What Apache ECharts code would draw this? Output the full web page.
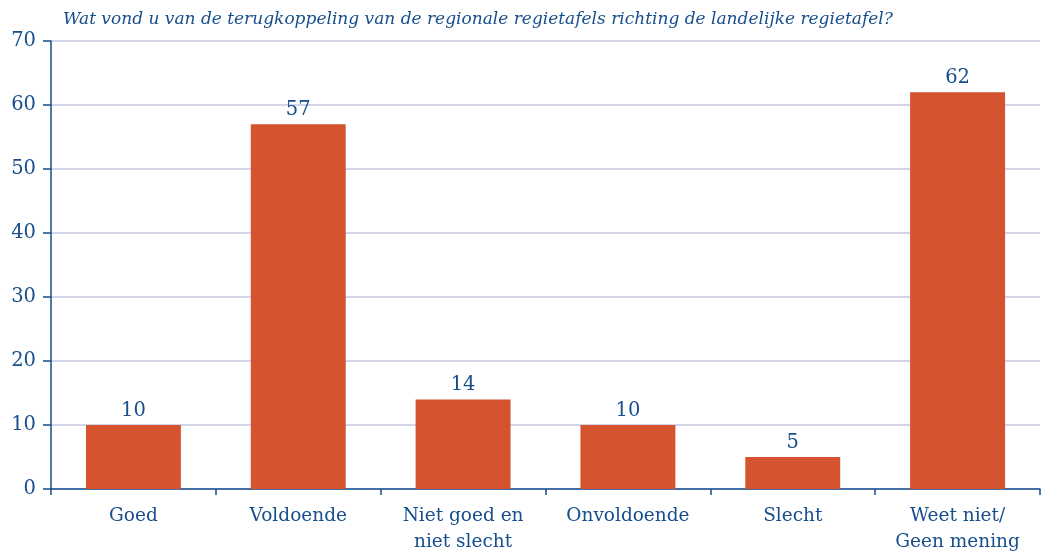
<!DOCTYPE html>
<html lang="nl">
<head>
<meta charset="utf-8">
<script src="https://cdn.jsdelivr.net/npm/echarts@6/dist/echarts.min.js"></script>
<style>
  html, body { margin: 0; padding: 0; background: #fff; }
  #main { width: 1044px; height: 555px; }
</style>
</head>
<body>
<div id="main"></div>
<script type="text/javascript">
  // data
  var titleText = 'Wat vond u van de terugkoppeling van de regionale regietafels richting de landelijke regietafel?';
  var categories = ['Goed', 'Voldoende', 'Niet goed en\nniet slecht', 'Onvoldoende', 'Slecht', 'Weet niet/\nGeen mening'];
  var values = [10, 57, 14, 10, 5, 62];
  var yTicks = { min: 0, max: 70, interval: 10 };

  var textBlue = '#174e8c';
  var barRed = '#d5532f';
  var fontName = 'DejaVu Serif';

  var chart = echarts.init(document.getElementById('main'));
  chart.setOption({
    animation: false,
    title: {
      text: titleText,
      left: 58,
      top: 6,
      textStyle: { color: textBlue, fontFamily: fontName, fontStyle: 'italic', fontWeight: 'normal', fontSize: 17 }
    },
    grid: { left: 51, right: 4, top: 41, bottom: 66 },
    xAxis: {
      type: 'category',
      data: categories,
      axisLine: { lineStyle: { color: textBlue, width: 1.5 } },
      axisTick: { show: true, interval: 0, length: 6, lineStyle: { color: textBlue, width: 1.5 } },
      axisLabel: { interval: 0, color: textBlue, fontFamily: fontName, fontSize: 18.5, margin: 14, lineHeight: 26 }
    },
    yAxis: {
      type: 'value',
      min: yTicks.min,
      max: yTicks.max,
      interval: yTicks.interval,
      axisLine: { show: true, lineStyle: { color: textBlue, width: 1.5 } },
      axisTick: { show: true, length: 8, lineStyle: { color: textBlue, width: 1.5 } },
      axisLabel: { color: textBlue, fontFamily: fontName, fontSize: 19.5, margin: 15 },
      splitLine: { lineStyle: { color: '#c3c8e0', width: 1.5 } }
    },
    series: [{
      type: 'bar',
      data: values,
      barWidth: '57.6%',
      itemStyle: { color: barRed },
      label: {
        show: true,
        position: 'top',
        distance: 4,
        color: textBlue,
        fontFamily: fontName,
        fontSize: 19.5
      }
    }]
  });
</script>
</body>
</html>
